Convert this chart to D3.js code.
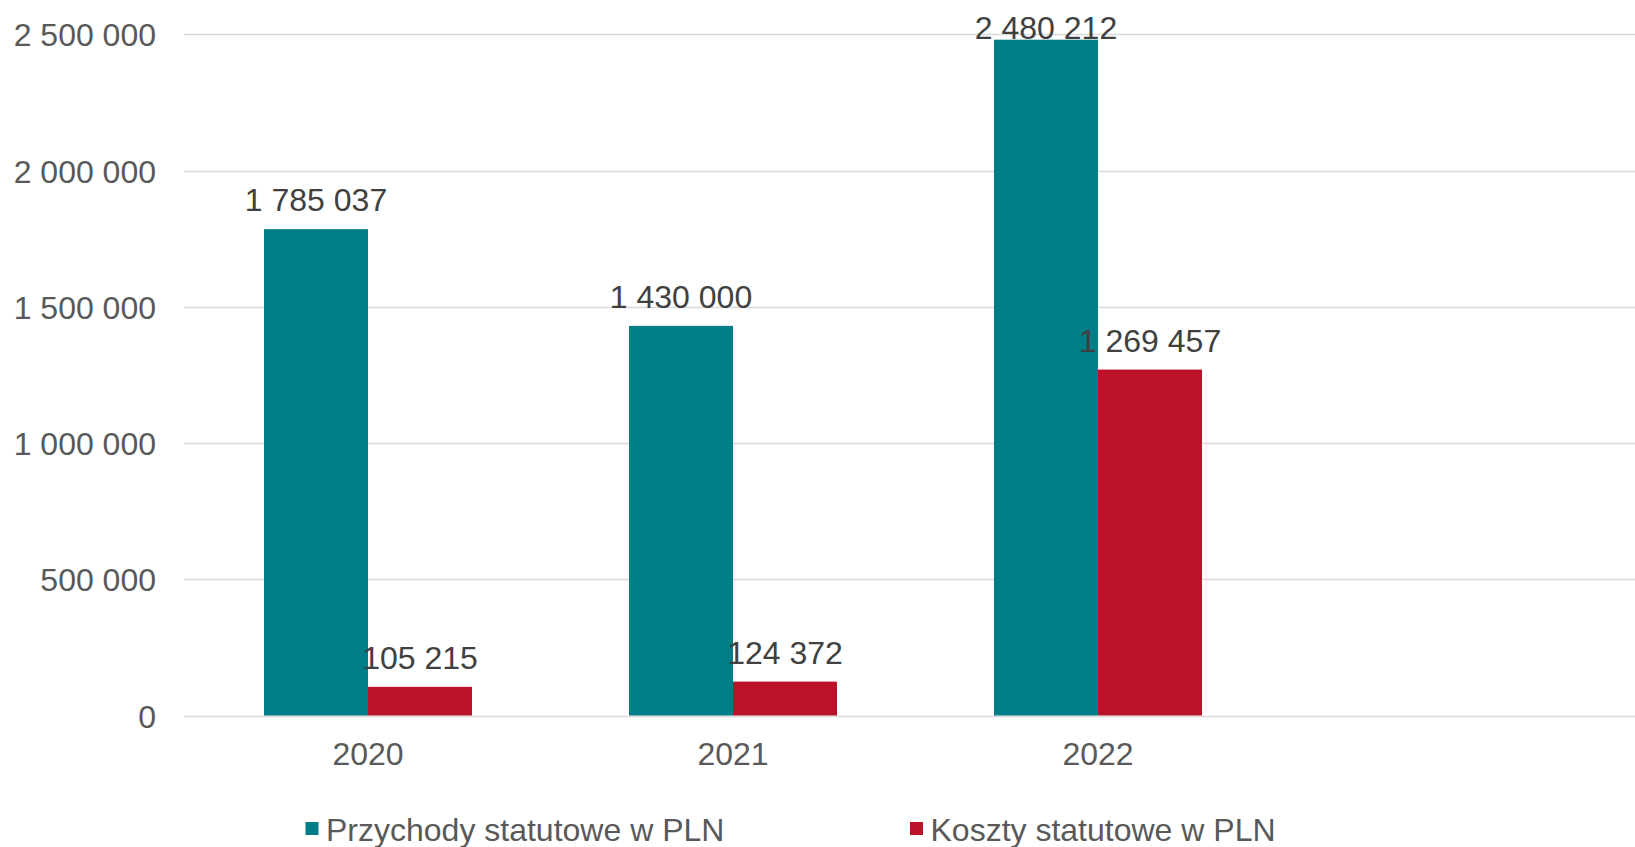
<!DOCTYPE html>
<html>
<head>
<meta charset="utf-8">
<script src="https://cdn.jsdelivr.net/npm/d3@7"></script>
<style>
  html, body { margin: 0; padding: 0; background: #ffffff; }
  svg { display: block; font-family: "Liberation Sans", Arial, sans-serif; }
</style>
</head>
<body>
<svg id="chart" width="1635" height="847"></svg>
<script>
const categories = ["2020", "2021", "2022"];
const seriesNames = ["Przychody statutowe w PLN", "Koszty statutowe w PLN"];
const przychody = [1785037, 1430000, 2480212];
const koszty = [105215, 124372, 1269457];
const yTicks = [0, 500000, 1000000, 1500000, 2000000, 2500000];
const colors = ["#007D87", "#BA1229"];

const W = 1635, H = 847;
const svg = d3.select("#chart");

const locale = d3.formatLocale({ thousands: "\u00a0", grouping: [3], decimal: ",", currency: ["", ""] });
const fmt = locale.format(",");

const plotLeft = 184, plotRight = W;
const y = d3.scaleLinear().domain([0, 2500000]).range([715.5, 34.3]);

// 4 bands (last one empty), like the source chart which is cut on the right
const x0 = d3.scaleBand().domain([...categories, "_empty"]).range([185.5, 185.5 + 4 * 365]).paddingInner(0).paddingOuter(0);
const barW = 104;
const x1 = d3.scaleBand().domain(seriesNames).range([0, 2 * barW]);

// gridlines
const grid = svg.append("g");
grid.selectAll("line").data(yTicks).join("line")
  .attr("x1", plotLeft).attr("x2", plotRight)
  .attr("y1", d => Math.round(y(d)) + 0.5).attr("y2", d => Math.round(y(d)) + 0.5)
  .attr("stroke", "#d9d9d9").attr("stroke-width", 1.5);

// y tick labels
const yAxis = d3.axisLeft(y).tickValues(yTicks).tickFormat(fmt).tickSize(0).tickPadding(0);
const yg = svg.append("g").attr("transform", `translate(156,0)`).call(yAxis);
yg.select(".domain").remove();
yg.selectAll("text")
  .attr("font-size", 32).attr("fill", "#595959")
  .attr("font-family", "'Liberation Sans', Arial, sans-serif")
  .attr("dy", null).attr("y", 11.5);

// x labels
const xAxis = d3.axisBottom(x0).tickValues(categories).tickSize(0).tickPadding(0);
const xg = svg.append("g").attr("transform", `translate(0,0)`).call(xAxis);
xg.select(".domain").remove();
xg.selectAll("text")
  .attr("font-size", 32).attr("fill", "#595959")
  .attr("font-family", "'Liberation Sans', Arial, sans-serif")
  .attr("dy", null).attr("y", 765);

const data = categories.map((c, i) => ({ cat: c, vals: [przychody[i], koszty[i]] }));

const groups = svg.append("g").selectAll("g").data(data).join("g")
  .attr("transform", d => `translate(${x0(d.cat) + x0.bandwidth() / 2 - barW},0)`);

groups.selectAll("rect").data(d => d.vals.map((v, j) => ({ v, s: seriesNames[j], j })))
  .join("rect")
  .attr("x", d => x1(d.s))
  .attr("width", x1.bandwidth())
  .attr("y", d => y(d.v))
  .attr("height", d => y(0) - y(d.v))
  .attr("fill", d => colors[d.j]);

// data labels (kept inside the chart area at the top, as in the source)
const labels = svg.append("g");
data.forEach(d => {
  d.vals.forEach((v, j) => {
    labels.append("text")
      .attr("x", x0(d.cat) + x0.bandwidth() / 2 - barW + x1(seriesNames[j]) + x1.bandwidth() / 2)
      .attr("y", Math.max(y(v) - 18, 39))
      .attr("text-anchor", "middle")
      .attr("font-size", 32)
      .attr("fill", "#404040")
      .text(fmt(v));
  });
});

// legend
const legendItems = [
  { name: seriesNames[0], color: colors[0], x: 305.5 },
  { name: seriesNames[1], color: colors[1], x: 910 }
];
const lg = svg.append("g");
legendItems.forEach(it => {
  lg.append("rect").attr("x", it.x).attr("y", 822).attr("width", 13).attr("height", 13).attr("fill", it.color);
  lg.append("text").attr("x", it.x + 20.5).attr("y", 841)
    .attr("font-size", 32).attr("fill", "#595959").text(it.name);
});
</script>
</body>
</html>
